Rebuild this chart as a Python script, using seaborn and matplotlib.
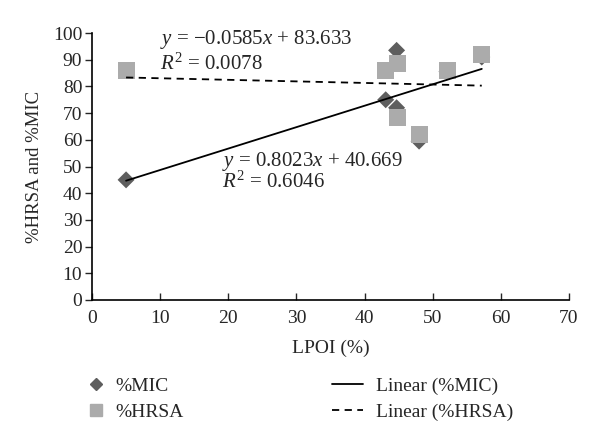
import numpy as np
import pandas as pd
import matplotlib
matplotlib.use("Agg")
import matplotlib.pyplot as plt
import seaborn as sns
from matplotlib.lines import Line2D

# data
lpoi_mic = [5.0, 43.1, 44.7, 44.7, 48.0, 52.1, 57.2]
pct_mic = [45.0, 75.0, 93.5, 72.0, 59.5, 85.5, 91.0]
lpoi_hrsa = [5.0, 43.1, 44.8, 44.8, 48.0, 52.1, 57.2]
pct_hrsa = [86.0, 86.0, 88.7, 68.4, 62.0, 85.8, 91.8]

# trend line coefficients as printed on the chart
fit_mic = (0.8023, 40.669, 0.6046)
fit_hrsa = (-0.0585, 83.633, 0.0078)

x_ticks = [0, 10, 20, 30, 40, 50, 60, 70]
y_ticks = [0, 10, 20, 30, 40, 50, 60, 70, 80, 90, 100]

sns.set_theme(style="white")
plt.rcParams["font.family"] = ["Liberation Serif", "DejaVu Serif"]
plt.rcParams["mathtext.fontset"] = "custom"
plt.rcParams["mathtext.rm"] = "Liberation Serif"
plt.rcParams["mathtext.it"] = "Liberation Serif:italic"

mic = pd.DataFrame({"x": lpoi_mic, "y": pct_mic})
hrsa = pd.DataFrame({"x": lpoi_hrsa, "y": pct_hrsa})

fig = plt.figure(figsize=(6, 4.44), dpi=100)
ax = fig.add_axes([92 / 600, 1 - 300 / 444, (569 - 92) / 600, (300 - 33) / 444])

mic_col = "#5e5e5e"
hrsa_col = "#ababab"

sns.scatterplot(data=mic, x="x", y="y", marker="D", s=75, color=mic_col,
                edgecolor="none", ax=ax, zorder=3)
sns.scatterplot(data=hrsa, x="x", y="y", marker="s", s=150, color=hrsa_col,
                edgecolor="none", ax=ax, zorder=4)

# trend lines from the printed equations
xm = np.array([min(lpoi_mic), max(lpoi_mic)])
xh = np.array([min(lpoi_hrsa), max(lpoi_hrsa)])
sns.lineplot(x=xm, y=fit_mic[0] * xm + fit_mic[1], color="black", lw=1.3,
             ax=ax, zorder=5)
sns.lineplot(x=xh, y=fit_hrsa[0] * xh + fit_hrsa[1], color="black", lw=1.3,
             linestyle=(0, (4, 3)), ax=ax, zorder=5)

ax.set_xlim(0, 70)
ax.set_ylim(0, 100)
ax.set_xticks(x_ticks)
ax.set_yticks(y_ticks)
ax.tick_params(axis="y", direction="out", length=5, width=1, labelsize=14,
               left=True, pad=2)
ax.tick_params(axis="x", direction="in", length=5, width=1, labelsize=14,
               bottom=True, pad=7)
for s in ["top", "right"]:
    ax.spines[s].set_visible(False)
for s in ["left", "bottom"]:
    ax.spines[s].set_color("black")
    ax.spines[s].set_linewidth(1.2)

ax.set_xlabel("LPOI (%)", fontsize=14, labelpad=9)
ax.set_ylabel("%HRSA and %MIC", fontsize=13.5, labelpad=7)

ax.text(10.0, 97.4, r"$y$ = $-$0.0585$x$ + 83.633", fontsize=15, va="center")
ax.text(10.0, 88.2, r"$R^2$ = 0.0078", fontsize=15, va="center")
ax.text(19.1, 51.7, r"$y$ = 0.8023$x$ + 40.669", fontsize=15, va="center")
ax.text(19.1, 44.0, r"$R^2$ = 0.6046", fontsize=15, va="center")

ls_dash = (0, (4, 3))
leg_left = [
    Line2D([], [], marker="D", ls="none", color=mic_col, markersize=6, label="%MIC"),
    Line2D([], [], marker="s", ls="none", color=hrsa_col, markersize=9, label="%HRSA"),
]
leg_right = [
    Line2D([], [], color="black", lw=1.3, label="Linear (%MIC)"),
    Line2D([], [], color="black", lw=1.3, ls=ls_dash, label="Linear (%HRSA)"),
]
l1 = fig.legend(handles=leg_left, loc="center left", bbox_to_anchor=(86 / 600, 1 - 399 / 444),
                frameon=False, fontsize=14, handlelength=1.0, handletextpad=0.5,
                labelspacing=0.4, borderpad=0, borderaxespad=0)
l2 = fig.legend(handles=leg_right, loc="center left", bbox_to_anchor=(332 / 600, 1 - 399 / 444),
                frameon=False, fontsize=14, handlelength=1.6, handletextpad=0.65,
                labelspacing=0.4, borderpad=0, borderaxespad=0)

fig.savefig("out.png", dpi=100)
